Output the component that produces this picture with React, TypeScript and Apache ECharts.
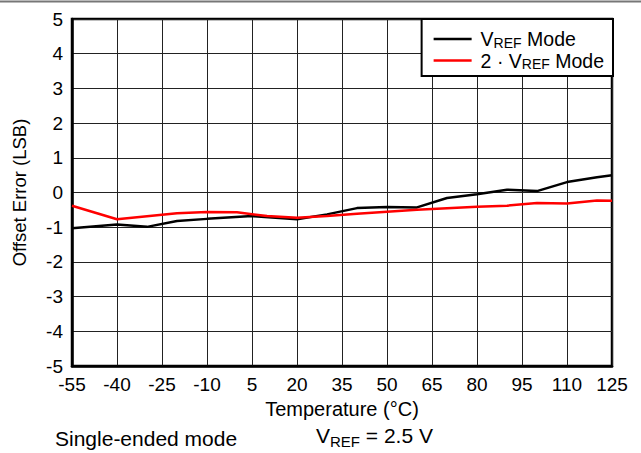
import React, { useEffect, useRef } from "react";
import * as echarts from "echarts";

const xTicks = [-55, -40, -25, -10, 5, 20, 35, 50, 65, 80, 95, 110, 125];
const yRange = [-5, 5];

const vrefTemps = [-55, -40, -30, -20, -10, 5, 20, 30, 40, 50, 60, 70, 80, 90, 100, 110, 120, 125];
const vrefValues = [-1.03, -0.92, -0.99, -0.82, -0.76, -0.68, -0.77, -0.63, -0.45, -0.42, -0.43, -0.16, -0.05, 0.08, 0.04, 0.3, 0.44, 0.5];

const vref2Temps = [-55, -40, -20, -10, 0, 10, 20, 30, 40, 60, 80, 90, 100, 110, 120, 125];
const vref2Values = [-0.38, -0.77, -0.6, -0.56, -0.57, -0.68, -0.73, -0.68, -0.61, -0.5, -0.41, -0.38, -0.3, -0.32, -0.23, -0.24];

const seriesNames = ["vref", "vref2"];

const FONT = "'Liberation Sans', Arial, sans-serif";

export default function App() {
  const ref = useRef<HTMLDivElement>(null);
  useEffect(() => {
    if (!ref.current) return;
    const chart = echarts.init(ref.current, null, { renderer: "svg" });
    const rich = {
      f: { fontSize: 19.5, fontFamily: FONT, color: "#000", lineHeight: 21, padding: [0, 0, 0, 4] },
      n: { fontSize: 19.5, fontFamily: FONT, color: "#000", lineHeight: 21 },
      s: { fontSize: 14, fontFamily: FONT, color: "#000", lineHeight: 14, verticalAlign: "bottom" },
    };
    chart.setOption({
      animation: false,
      textStyle: { fontFamily: FONT },
      grid: {
        left: 72,
        right: 29,
        top: 19,
        bottom: 87,
        show: true,
        borderColor: "#000",
        borderWidth: 2.5,
        backgroundColor: "#fff",
      },
      xAxis: {
        type: "value",
        min: xTicks[0],
        max: xTicks[xTicks.length - 1],
        interval: 15,
        name: "Temperature (°C)",
        nameLocation: "middle",
        nameGap: 31,
        nameTextStyle: { fontSize: 20, color: "#000", fontFamily: FONT },
        axisLine: { show: true, onZero: false, lineStyle: { color: "#000", width: 2.5 } },
        axisTick: { show: false },
        axisLabel: { fontSize: 19, color: "#000", margin: 9, fontFamily: FONT },
        splitLine: { show: true, lineStyle: { color: "#222", width: 1 } },
      },
      yAxis: {
        type: "value",
        min: yRange[0],
        max: yRange[1],
        interval: 1,
        name: "Offset Error (LSB)",
        nameLocation: "middle",
        nameGap: 43,
        nameTextStyle: { fontSize: 18.5, color: "#000", fontFamily: FONT },
        axisLine: { show: true, onZero: false, lineStyle: { color: "#000", width: 2.5 } },
        axisTick: { show: false },
        axisLabel: { fontSize: 19, color: "#000", margin: 9, fontFamily: FONT },
        splitLine: { show: true, lineStyle: { color: "#222", width: 1 } },
      },
      legend: {
        orient: "vertical",
        right: 28,
        top: 19,
        backgroundColor: "#fff",
        borderColor: "#000",
        borderWidth: 2,
        padding: [10, 9, 5, 12],
        itemGap: 1,
        itemWidth: 38,
        itemHeight: 2.5,
        data: [
          { name: seriesNames[0], icon: "rect" },
          { name: seriesNames[1], icon: "rect" },
        ],
        formatter: (name: string) =>
          name === "vref" ? "{f|V}{s|REF}{n| Mode}" : "{f|2 · V}{s|REF}{n| Mode}",
        textStyle: { rich, fontSize: 19.5, color: "#000" },
      },
      series: [
        {
          name: seriesNames[0],
          type: "line",
          data: vrefTemps.map((t, i) => [t, vrefValues[i]]),
          symbol: "none",
          lineStyle: { color: "#000", width: 2.5 },
          itemStyle: { color: "#000" },
          z: 3,
        },
        {
          name: seriesNames[1],
          type: "line",
          data: vref2Temps.map((t, i) => [t, vref2Values[i]]),
          symbol: "none",
          lineStyle: { color: "#ff0000", width: 2.5 },
          itemStyle: { color: "#ff0000" },
          z: 4,
        },
      ],
      graphic: [
        {
          type: "line",
          shape: { x1: 0, y1: 1.5, x2: 641, y2: 1.5 },
          style: { stroke: "#777", lineWidth: 2 },
        },
        {
          type: "text",
          left: 55,
          top: 428,
          style: { text: "Single-ended mode", font: `21px ${FONT}`, fill: "#000" },
        },
        {
          type: "text",
          left: 316,
          top: 425,
          style: {
            text: "{n|V}{s|REF}{n| = 2.5 V}",
            rich: {
              n: { fontSize: 21, fontFamily: FONT, fill: "#000", lineHeight: 27 },
              s: { fontSize: 15, fontFamily: FONT, fill: "#000", lineHeight: 15, verticalAlign: "bottom" },
            },
          },
        },
      ],
    });
    return () => chart.dispose();
  }, []);
  return (
    <div
      ref={ref}
      style={{ position: "fixed", left: 0, top: 0, width: 641, height: 453, background: "#fff" }}
    />
  );
}
